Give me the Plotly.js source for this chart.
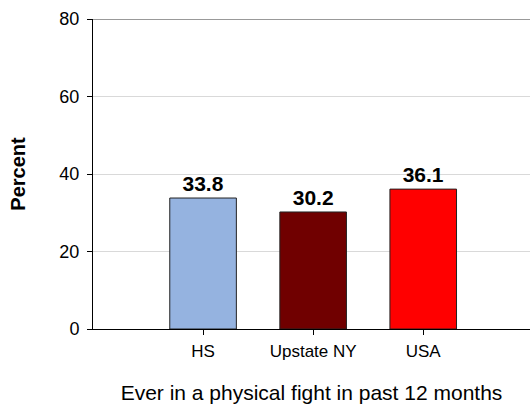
<!DOCTYPE html>
<html>
<head>
<meta charset="utf-8">
<script src="https://cdn.plot.ly/plotly-3.0.1.min.js"></script>
<style>html,body{margin:0;padding:0;overflow:hidden;background:#fff;}</style>
</head>
<body>
<div id="chart" style="width:530px;height:406px;"></div>
<script>
const categories = ["HS", "Upstate NY", "USA"];
const values = [33.8, 30.2, 36.1];
const labels = ["<b>33.8</b>", "<b>30.2</b>", "<b>36.1</b>"];
const barColors = ["#95b3e0", "#700000", "#ff0000"];
const yTicks = [0, 20, 40, 60, 80];

const trace = {
  type: "bar",
  x: categories,
  y: values,
  text: labels,
  textposition: "outside",
  cliponaxis: false,
  textfont: {family: "Liberation Sans, Arial, sans-serif", size: 21, color: "#000"},
  marker: {color: barColors, line: {color: "#222", width: 1}},
  width: 0.605,
  hoverinfo: "none"
};

const layout = {
  width: 530, height: 406,
  margin: {l: 92.5, r: 0, t: 19, b: 77},
  paper_bgcolor: "#fff", plot_bgcolor: "#fff",
  showlegend: false,
  font: {family: "Liberation Sans, Arial, sans-serif", color: "#000"},
  xaxis: {
    type: "category",
    range: [-1, 2.97],
    showgrid: false,
    showline: true, linecolor: "#000", linewidth: 1,
    ticks: "outside", ticklen: 5, tickcolor: "#000",
    ticklabelstandoff: 2,
    tickfont: {size: 17},
    title: {text: "Ever in a physical fight in past 12 months", font: {size: 21}, standoff: 24},
    zeroline: false
  },
  yaxis: {
    range: [0, 80],
    tickvals: yTicks,
    ticktext: yTicks.map(String),
    showgrid: true, gridcolor: "#d9d9d9", gridwidth: 1,
    showline: true, linecolor: "#000", linewidth: 1,
    ticks: "outside", ticklen: 5, tickcolor: "#000",
    ticklabelstandoff: 4,
    tickfont: {size: 18},
    zeroline: false,
    title: {text: "<b>Percent</b>", font: {size: 20}, standoff: 28}
  },
  shapes: [{
    type: "line", xref: "paper", yref: "y", x0: 0, x1: 1, y0: 80, y1: 80,
    line: {color: "#777", width: 1.5}
  }]
};

Plotly.newPlot("chart", [trace], layout, {displayModeBar: false, staticPlot: true});
</script>
</body>
</html>
